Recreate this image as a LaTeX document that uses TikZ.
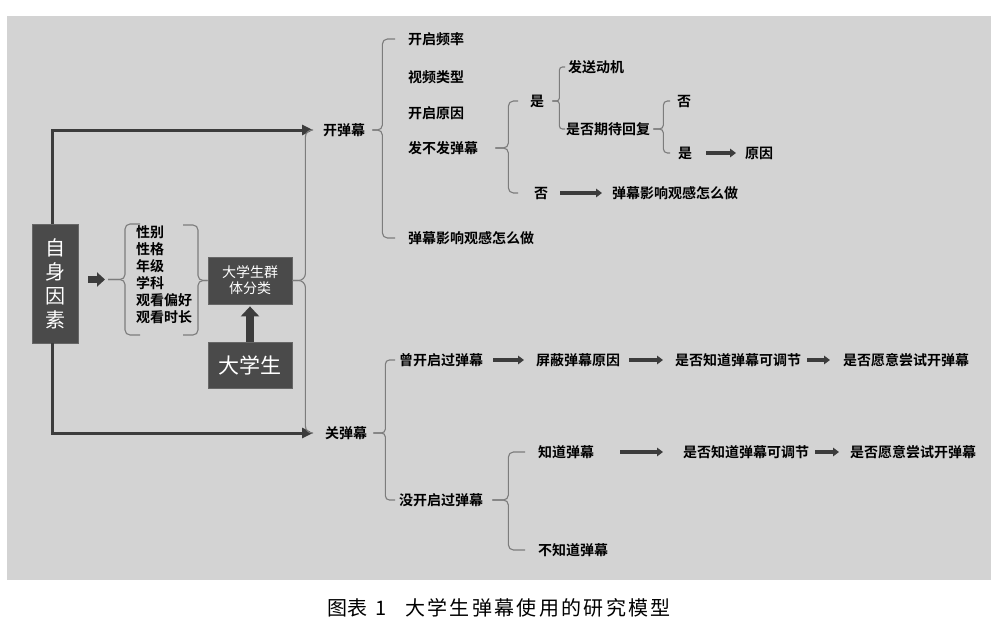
\documentclass[tikz,border=0pt]{standalone}
\usepackage{fontspec}
\setmainfont{Noto Sans CJK SC}[BoldFont={Noto Sans CJK SC Bold}]
\usetikzlibrary{arrows.meta,calc}
\definecolor{bgc}{HTML}{D3D3D3}
\definecolor{boxc}{HTML}{4A4A4A}
\definecolor{boxl}{HTML}{666666}
\definecolor{brcol}{HTML}{7C7C7C}
\definecolor{arrc}{HTML}{3C3C3C}
\def\spaced#1{\ifx#1\relax\else#1\kern2.3pt\expandafter\spaced\fi}
\begin{document}
\begin{tikzpicture}[x=1pt,y=-1pt,
 lbl/.style={anchor=west,inner sep=0pt,text height=11.8pt,text depth=1.8pt,font=\fontsize{14}{17}\selectfont\bfseries},
 dbox/.style={fill=boxc,draw=boxl,line width=0.8pt,text=white,inner sep=0pt,align=center},
 brc/.style={draw=brcol,line width=1.1pt,rounded corners=#1},
 brc/.default=5pt,
 mainarr/.style={draw=arrc,line width=3pt,-{Triangle[length=11pt,width=10pt]}},
 smarr/.style={draw=arrc,line width=3.5pt,-{Triangle[length=6pt,width=8.5pt]}},
 fatarr/.style={draw=arrc,line width=7pt,-{Triangle[length=8pt,width=14pt]}},
 uparr/.style={draw=arrc,line width=8pt,-{Triangle[length=10pt,width=18pt]}},
]
\fill[white] (0,0) rectangle (1000,637);
\fill[bgc] (7,16) rectangle (991,580);
\useasboundingbox (0,0) rectangle (1000,637);

% boxes
\node[dbox,minimum width=46pt,minimum height=119pt,font=\fontsize{20}{24}\selectfont] (self) at (55,283.5) {自\\身\\因\\素};
\node[dbox,minimum width=84pt,minimum height=47pt,font=\fontsize{14}{16}\selectfont] (grp) at (250,280.5) {大学生群\\体分类};
\node[dbox,minimum width=84pt,minimum height=46pt,font=\fontsize{21}{24}\selectfont] (dxs) at (250,365) {大学生};
\node[anchor=north west,inner sep=0pt,align=left,font=\fontsize{14}{17}\selectfont\bfseries] (attrs) at (136,225) {性别\\性格\\年级\\学科\\观看偏好\\观看时长};

% labels
\node[lbl] (kai) at (323,130) {开弹幕};
\node[lbl] (guan) at (325,433) {关弹幕};
\node[lbl] (k1) at (408,39) {开启频率};
\node[lbl] (k2) at (408,77) {视频类型};
\node[lbl] (k3) at (408,113) {开启原因};
\node[lbl] (k4) at (408,148) {发不发弹幕};
\node[lbl] (k5) at (408,238) {弹幕影响观感怎么做};
\node[lbl] (shi) at (530,101) {是};
\node[lbl] (fou) at (534,193) {否};
\node[lbl] (fasong) at (568,67) {发送动机};
\node[lbl] (qidai) at (566,129) {是否期待回复};
\node[lbl] (fou2) at (677,101) {否};
\node[lbl] (shi2) at (678,153) {是};
\node[lbl] (yuanyin) at (745,153) {原因};
\node[lbl] (yx2) at (612,193) {弹幕影响观感怎么做};
\node[lbl] (ceng) at (399,360) {曾开启过弹幕};
\node[lbl] (pingbi) at (536,360) {屏蔽弹幕原因};
\node[lbl] (kt1) at (675,360) {是否知道弹幕可调节};
\node[lbl] (yy1) at (843,360) {是否愿意尝试开弹幕};
\node[lbl] (mei) at (399,500) {没开启过弹幕};
\node[lbl] (zhidao) at (538,452) {知道弹幕};
\node[lbl] (kt2) at (683,452) {是否知道弹幕可调节};
\node[lbl] (yy2) at (850,452) {是否愿意尝试开弹幕};
\node[lbl] (buzhi) at (538,550) {不知道弹幕};

% caption
\node[anchor=west,inner sep=0pt,font=\fontsize{20}{24}\selectfont,text=black] (cap) at (327,608) {图表\kern8pt 1\kern19pt\spaced 大学生弹幕使用的研究模型\relax};

% main arrows
\draw[mainarr,shorten >=10pt] ([xshift=-3pt]self.north) |- (kai.west);
\draw[mainarr,shorten >=12pt] ([xshift=-3pt]self.south) |- (guan.west);

% fat arrow and attribute braces
\coordinate (ltip) at (108,279.5);
\draw[fatarr,shorten <=10pt,shorten >=3pt] (self.east |- ltip) -- (ltip);
\draw[brc] (140,224) -- (125,224) -- (125,279.5) -- (ltip);
\draw[brc] (140,335) -- (125,335) -- (125,279.5) -- (ltip);
\draw[brc] (183,225) -- (198,225) -- (198,280.5) -- (grp.west);
\draw[brc] (183,335) -- (198,335) -- (198,280.5) -- (grp.west);

% up arrow
\draw[uparr,shorten >=2pt] (dxs.north) -- (grp.south);

% main brace
\draw[brc=7pt] (grp.east) -- ++(13,0) |- ([xshift=-10pt]kai.west);
\draw[brc=7pt] (grp.east) -- ++(13,0) |- ([xshift=-12pt]guan.west);

% open-danmaku branches
\draw[brc] ([xshift=7pt]kai.east) -- ++(10,0) |- ([xshift=-13pt]k1.west);
\draw[brc] ([xshift=7pt]kai.east) -- ++(10,0) |- ([xshift=-13pt]k5.west);
\draw[brc] ([xshift=17pt]k4.east) -- ++(13,0) |- ([xshift=-12pt]shi.west);
\draw[brc] ([xshift=17pt]k4.east) -- ++(13,0) |- ([xshift=-16pt]fou.west);
\draw[brc=3pt] ([xshift=8pt]shi.east) -- ++(7,0) |- ([xshift=-3pt]fasong.west);
\draw[brc=3pt] ([xshift=8pt]shi.east) -- ++(7,0) |- ([xshift=-1pt]qidai.west);
\draw[brc=4pt] ([xshift=3pt]qidai.east) -- ++(10,0) |- ([xshift=-7pt]fou2.west);
\draw[brc=4pt] ([xshift=3pt]qidai.east) -- ++(10,0) |- ([xshift=-8pt]shi2.west);
\draw[smarr,shorten <=14pt,shorten >=9pt] (shi2.east) -- (shi2.east -| yuanyin.west);
\draw[smarr,shorten <=12pt,shorten >=10pt] (fou.east) -- (fou.east -| yx2.west);

% closed-danmaku branches
\draw[brc=4pt] ([xshift=6pt]guan.east) -- ++(12,0) |- ([xshift=-4pt]ceng.west);
\draw[brc=4pt] ([xshift=6pt]guan.east) -- ++(12,0) |- ([xshift=-4pt]mei.west);
\draw[smarr,shorten <=10pt,shorten >=12pt] (ceng.east) -- (ceng.east -| pingbi.west);
\draw[smarr,shorten <=9pt,shorten >=12pt] (pingbi.east) -- (pingbi.east -| kt1.west);
\draw[smarr,shorten <=6pt,shorten >=13pt] (kt1.east) -- (kt1.east -| yy1.west);
\draw[brc] ([xshift=9pt]mei.east) -- ++(16,0) |- ([xshift=-13pt]zhidao.west);
\draw[brc] ([xshift=9pt]mei.east) -- ++(16,0) |- ([xshift=-13pt]buzhi.west);
\draw[smarr,shorten <=26pt,shorten >=20pt] (zhidao.east) -- (zhidao.east -| kt2.west);
\draw[smarr,shorten <=6pt,shorten >=11pt] (kt2.east) -- (kt2.east -| yy2.west);
\end{tikzpicture}
\end{document}
